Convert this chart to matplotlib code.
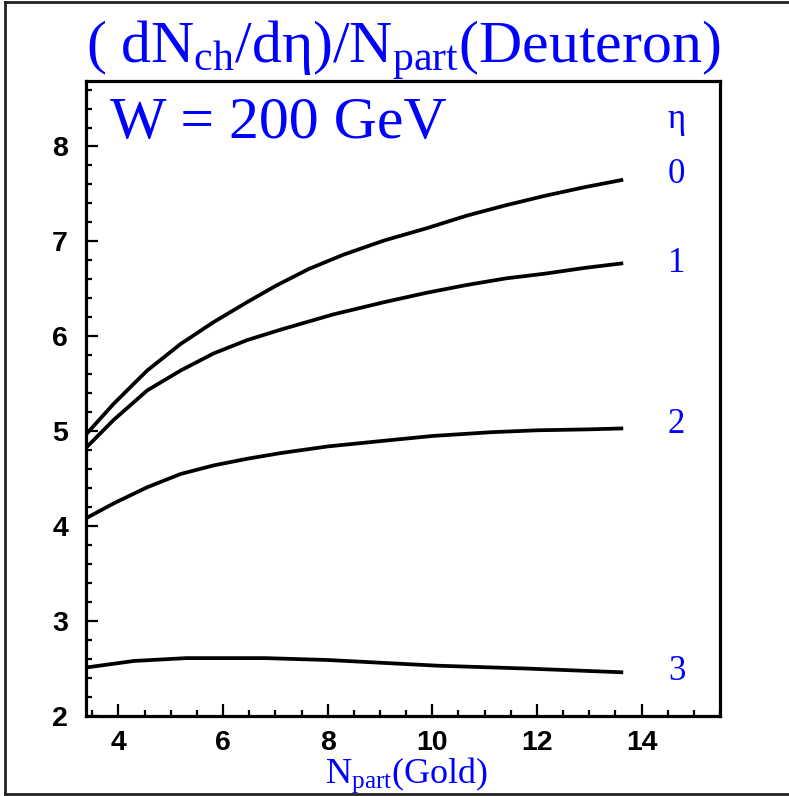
import matplotlib
matplotlib.use("Agg")
import matplotlib.pyplot as plt
from matplotlib.lines import Line2D
from matplotlib.ticker import MultipleLocator

plt.rcParams["mathtext.fontset"] = "custom"
plt.rcParams["mathtext.rm"] = "Liberation Serif"
plt.rcParams["mathtext.it"] = "Liberation Serif:italic"
plt.rcParams["mathtext.bf"] = "Liberation Serif:bold"
plt.rcParams["font.family"] = "Liberation Sans"

# dN/deta per deuteron participant versus number of gold participants
npart_eta0 = [3.37, 3.91, 4.55, 5.19, 5.82, 6.46, 7.0, 7.64, 8.3, 9.08, 9.9, 10.65, 11.4, 12.15, 12.9, 13.65]
dndeta_eta0 = [4.96, 5.29, 5.64, 5.92, 6.15, 6.36, 6.53, 6.71, 6.86, 7.01, 7.14, 7.27, 7.38, 7.48, 7.57, 7.65]

npart_eta1 = [3.37, 3.91, 4.55, 5.19, 5.82, 6.46, 7.1, 7.6, 8.1, 9.08, 9.9, 10.65, 11.4, 12.15, 12.9, 13.65]
dndeta_eta1 = [4.82, 5.12, 5.43, 5.64, 5.82, 5.96, 6.07, 6.15, 6.23, 6.36, 6.46, 6.54, 6.61, 6.66, 6.72, 6.77]

npart_eta2 = [3.37, 3.91, 4.55, 5.19, 5.82, 6.46, 7.1, 8.0, 9.08, 10.0, 11.13, 12.0, 13.0, 13.65]
dndeta_eta2 = [4.08, 4.24, 4.41, 4.55, 4.64, 4.71, 4.77, 4.84, 4.90, 4.95, 4.99, 5.01, 5.02, 5.03]

npart_eta3 = [3.37, 4.3, 5.3, 6.8, 8.0, 8.7, 10.1, 11.8, 13.65]
dndeta_eta3 = [2.51, 2.58, 2.61, 2.61, 2.59, 2.57, 2.53, 2.50, 2.46]

eta_labels = ["0", "1", "2", "3"]
eta_label_y = [7.62, 6.68, 4.98, 2.38]
eta_header_y = 8.20
label_x = 14.67

x_ticks = [4, 6, 8, 10, 12, 14]
y_ticks = [2, 3, 4, 5, 6, 7, 8]

blue = "#0000ff"
serif = "Liberation Serif"

fig = plt.figure(figsize=(7.89, 7.96), dpi=100)
ax = fig.add_axes([86 / 789, 1 - 716 / 796, (720 - 86) / 789, (716 - 81) / 796])

for xs, ys in [(npart_eta0, dndeta_eta0), (npart_eta1, dndeta_eta1),
               (npart_eta2, dndeta_eta2), (npart_eta3, dndeta_eta3)]:
    ax.plot(xs, ys, color="black", lw=2.7, solid_capstyle="butt", solid_joinstyle="round")

ax.set_xlim(3.38, 15.5)
ax.set_ylim(2.0, 8.69)
ax.set_xticks(x_ticks)
ax.set_yticks(y_ticks)
ax.xaxis.set_minor_locator(MultipleLocator(0.5))
ax.yaxis.set_minor_locator(MultipleLocator(0.2))
ax.tick_params(which="both", direction="in", top=False, right=False, width=1.6,
               color="black", labelsize=20.5)
ax.tick_params(which="major", length=8.6)
ax.tick_params(which="minor", length=4.3)
ax.tick_params(axis="y", which="major", pad=13)
ax.tick_params(axis="x", which="major", pad=10)
for lab in ax.get_xticklabels() + ax.get_yticklabels():
    lab.set_fontweight("bold")
for sp in ax.spines.values():
    sp.set_linewidth(2.3)

ax.text(label_x, eta_header_y, r"$\mathrm{\eta}$", color=blue, fontsize=25,
        ha="center", va="baseline", family=serif)
for lab, yy in zip(eta_labels, eta_label_y):
    ax.text(label_x, yy, lab, color=blue, fontsize=25, ha="center", va="baseline", family=serif)

fig.text(403 / 789, 1 - 63 / 796, r"$\mathrm{(\ dN_{ch}/d\eta)/N_{part}(Deuteron)}$",
         color=blue, fontsize=43, ha="center", va="baseline", family=serif)
fig.text(110 / 789, 1 - 138 / 796, "W = 200 GeV", color=blue, fontsize=43,
         ha="left", va="baseline", family=serif)
fig.text(407 / 789, 1 - 783 / 796, r"$\mathrm{N_{part}(Gold)}$", color=blue, fontsize=26,
         ha="center", va="baseline", family=serif)

# page border
for xs, ys in [([5 / 789, 5 / 789], [0.002, 0.998]),
               ([5 / 789, 1.0], [0.998, 0.998]),
               ([5 / 789, 1.0], [0.002, 0.002])]:
    fig.add_artist(Line2D(xs, ys, transform=fig.transFigure, color="#222222", lw=2.0))

fig.savefig("out.png", dpi=100)
